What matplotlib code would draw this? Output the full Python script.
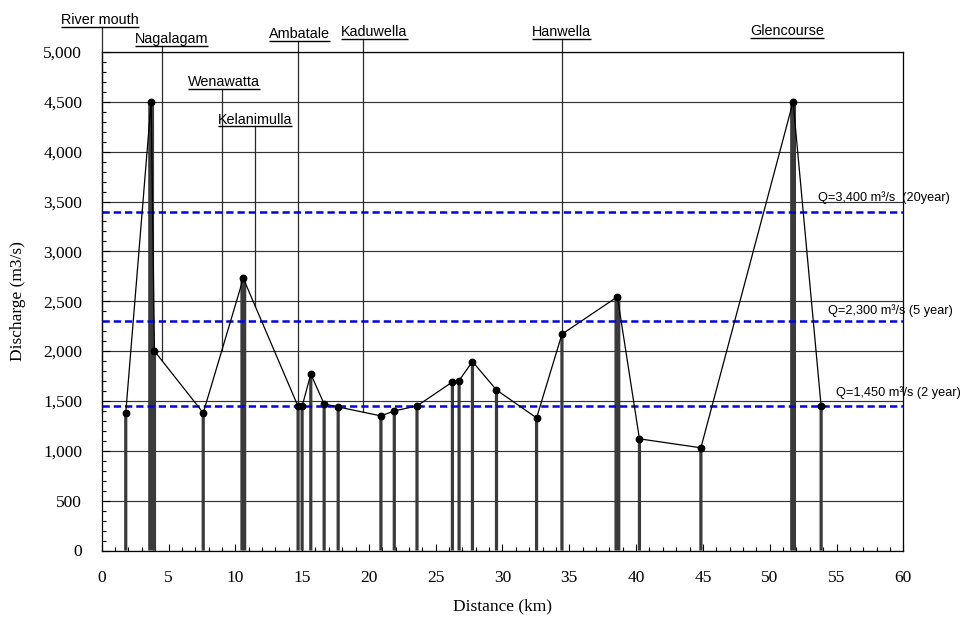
import numpy as np
import matplotlib
matplotlib.use("Agg")
import matplotlib.pyplot as plt
from matplotlib.ticker import MultipleLocator, FuncFormatter

# Surveyed discharge capacity along the river (distance from the mouth)
distance_km = [1.8, 3.7, 3.95, 7.6, 10.6, 14.7, 15.0, 15.65, 16.65, 17.7, 20.9,
               21.9, 23.6, 26.25, 26.75, 27.75, 29.55, 32.55, 34.45, 38.6, 40.25,
               44.85, 51.75, 53.85]
discharge = [1380, 4500, 2000, 1380, 2730, 1445, 1445, 1770, 1470, 1440, 1350,
             1400, 1450, 1690, 1705, 1895, 1610, 1330, 2170, 2545, 1120,
             1030, 4500, 1445]

# Design flood discharges
flood_q = [3400, 2300, 1450]
flood_text = ["Q=3,400 m³/s  (20year)", "Q=2,300 m³/s (5 year)", "Q=1,450 m³/s (2 year)"]

# Reference stations along the river
stations = ["River mouth", "Nagalagam", "Wenawatta", "Kelanimulla",
            "Ambatale", "Kaduwella", "Hanwella", "Glencourse"]
station_km = [0.0, 4.49, 8.98, 11.47, 14.72, 19.58, 34.43, np.nan]

# Label placement for the stations (centre distance, underline level)
label_km = [-0.15, 5.24, 9.15, 11.47, 14.84, 20.42, 34.4, 51.3]
label_level = [5255, 5065, 4630, 4255, 5115, 5135, 5135, 5145]

# Placement of the flood annotations
flood_text_km = [53.6, 54.4, 54.95]
flood_text_dy = [9.7, 7.6, 9.9]

SERIF = ["Liberation Serif", "DejaVu Serif"]
SANS = ["Liberation Sans", "DejaVu Sans"]

fig = plt.figure(figsize=(9.66, 6.26), dpi=100)
ax = fig.add_axes([101.7 / 966, 1 - 550.5 / 626, 801.6 / 966, 498.5 / 626])

x = np.array(distance_km)
q = np.array(discharge)

ax.set_xlim(0, 60)
ax.set_ylim(0, 5000)

# horizontal grid
ax.yaxis.grid(True, color="#333333", linewidth=0.85, zorder=0)
ax.set_axisbelow(True)

# capacity bars: sections above the 5-year flood drawn heavier
widths = np.where(q > flood_q[1], 0.44, 0.24)
ax.bar(x, q, width=widths, color="#3a3a3a", edgecolor="none", zorder=2, snap=False)

# design flood lines
for lvl, txt, tx, dy in zip(flood_q, flood_text, flood_text_km, flood_text_dy):
    ax.axhline(lvl, color="#0000ee", linewidth=1.8,
               linestyle=(0, (2.9, 1.6)), zorder=3)
    ax.annotate(txt, xy=(tx, lvl), xytext=(0, dy), textcoords="offset points",
                ha="left", va="center", fontsize=9.2, family=SANS,
                annotation_clip=False, zorder=5)

# capacity profile
ax.plot(x, q, color="black", linewidth=0.9, marker="o", markersize=4.6,
        markerfacecolor="black", markeredgecolor="black", zorder=4)

# station markers
texts = []
for name, skm, lkm, lvl in zip(stations, station_km, label_km, label_level):
    if not np.isnan(skm):
        base = np.interp(skm, x, q)
        ax.plot([skm, skm], [base, lvl], color="#2a2a2a", linewidth=0.9,
                clip_on=False, zorder=1.5)
    t = ax.annotate(name, xy=(lkm, lvl), xytext=(0, 1.9), textcoords="offset points",
                    ha="center", va="baseline", fontsize=10.4, family=SANS,
                    annotation_clip=False)
    texts.append((t, lvl))

# axes styling
for s in ax.spines.values():
    s.set_color("black")
    s.set_linewidth(0.9)

ax.xaxis.set_major_locator(MultipleLocator(5))
ax.xaxis.set_minor_locator(MultipleLocator(1))
ax.yaxis.set_major_locator(MultipleLocator(500))
ax.yaxis.set_minor_locator(MultipleLocator(100))
ax.yaxis.set_major_formatter(FuncFormatter(lambda v, p: f"{v:,.0f}"))
ax.xaxis.set_major_formatter(FuncFormatter(lambda v, p: f"{v:.0f}"))

ax.tick_params(axis="both", which="both", direction="in", top=False, right=False,
               width=0.8, color="black")
ax.tick_params(axis="x", which="major", length=5, pad=14)
ax.tick_params(axis="x", which="minor", length=2.8)
ax.tick_params(axis="y", which="major", length=6, pad=14)
ax.tick_params(axis="y", which="minor", length=3)
for lab in ax.get_xticklabels() + ax.get_yticklabels():
    lab.set_family(SERIF)
    lab.set_fontsize(12.5)

fig.text(18.5 / 966, 1 - 301 / 626, "Discharge (m3/s)", rotation=90,
         ha="center", va="center", fontsize=12.5, family=SERIF)
fig.text(502.5 / 966, 1 - 606 / 626, "Distance (km)",
         ha="center", va="center", fontsize=12.5, family=SERIF)

# underline the station names
fig.canvas.draw()
renderer = fig.canvas.get_renderer()
inv = ax.transData.inverted()
for t, lvl in texts:
    bb = t.get_window_extent(renderer)
    x0 = inv.transform((bb.x0, 0))[0]
    x1 = inv.transform((bb.x1, 0))[0]
    ax.plot([x0, x1], [lvl, lvl], color="black", linewidth=1.0,
            clip_on=False, solid_capstyle="butt")

fig.savefig("out.png", dpi=100)
